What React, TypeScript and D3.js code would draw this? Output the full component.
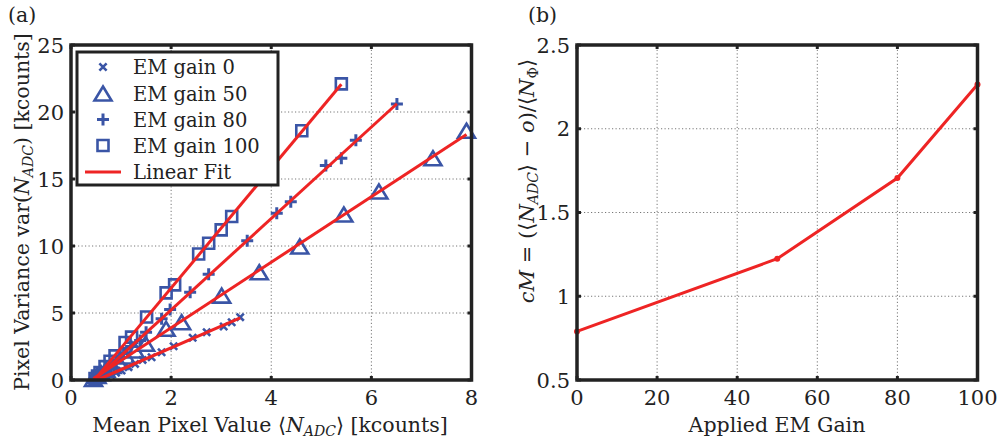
import React from "react";
import * as d3 from "d3";

// ---------- data ----------
const gain0X = [0.52, 0.6, 0.7, 0.8, 0.9, 1.01, 1.15, 1.28, 1.43, 1.61, 1.81, 2.05, 2.43, 2.71, 3.05, 3.21, 3.38];
const gain0Y = [0.02, 0.12, 0.25, 0.38, 0.55, 0.71, 0.96, 1.2, 1.5, 1.7, 2.07, 2.52, 3.15, 3.57, 3.99, 4.31, 4.69];

const gain50X = [0.45, 0.52, 0.6, 0.7, 0.82, 0.95, 1.1, 1.28, 1.49, 1.9, 2.21, 3.01, 3.76, 4.57, 5.45, 6.15, 7.23, 7.9];
const gain50Y = [0.08, 0.3, 0.5, 0.75, 1.05, 1.35, 1.75, 2.2, 2.7, 3.82, 4.31, 6.3, 8.04, 9.96, 12.35, 14.07, 16.55, 18.6];

const gain80X = [0.47, 0.53, 0.6, 0.68, 0.78, 0.9, 1.05, 1.2, 1.38, 1.5, 1.81, 1.98, 2.38, 2.75, 3.52, 4.11, 4.39, 5.09, 5.4, 5.69, 6.51];
const gain80Y = [0.05, 0.2, 0.45, 0.72, 1.05, 1.45, 1.98, 2.5, 2.95, 3.57, 4.57, 5.26, 6.55, 7.9, 10.4, 12.45, 13.3, 16.0, 16.55, 17.9, 20.6];

const gain100X = [0.48, 0.53, 0.58, 0.68, 0.78, 0.88, 1.08, 1.21, 1.51, 1.9, 2.07, 2.55, 2.75, 3.0, 3.21, 4.61, 5.4];
const gain100Y = [0.1, 0.3, 0.56, 1.0, 1.4, 1.8, 2.8, 3.2, 4.7, 6.5, 7.1, 9.4, 10.2, 11.2, 12.2, 18.6, 22.1];

const emGain = [0, 50, 80, 100];
const cmValues = [0.79, 1.224, 1.706, 2.264];

const leftXTicks = [0, 2, 4, 6, 8];
const leftYTicks = [0, 5, 10, 15, 20, 25];
const rightXTicks = [0, 20, 40, 60, 80, 100];
const rightYTicks = [0.5, 1, 1.5, 2, 2.5];
const legendLabels = ["EM gain 0", "EM gain 50", "EM gain 80", "EM gain 100", "Linear Fit"];

// ---------- style ----------
const FONT = "'DejaVu Serif', serif";
const BLUE = "#3a55a6";
const RED = "#ee2424";
const FS = 20.5; // axis labels
const TFS = 21; // tick labels
const LFS = 19.5; // legend
const SUB = 14;

type Shape = "x" | "tri" | "plus" | "sq";

function markerPath(shape: Shape, cx: number, cy: number): string {
  if (shape === "x") {
    const r = 3.6;
    return `M${cx - r},${cy - r}L${cx + r},${cy + r}M${cx - r},${cy + r}L${cx + r},${cy - r}`;
  }
  if (shape === "plus") {
    const r = 6;
    return `M${cx - r},${cy}L${cx + r},${cy}M${cx},${cy - r}L${cx},${cy + r}`;
  }
  if (shape === "sq") {
    const r = 5.5;
    return `M${cx - r},${cy - r}H${cx + r}V${cy + r}H${cx - r}Z`;
  }
  const s = 17;
  const h = 14;
  return `M${cx},${cy - h / 2}L${cx + s / 2},${cy + h / 2}L${cx - s / 2},${cy + h / 2}Z`;
}

function fit(xs: number[], ys: number[]) {
  const mx = d3.mean(xs)!;
  const my = d3.mean(ys)!;
  let num = 0;
  let den = 0;
  xs.forEach((x, i) => {
    num += (x - mx) * (ys[i] - my);
    den += (x - mx) * (x - mx);
  });
  const b = num / den;
  const a = my - b * mx;
  return { a, b };
}

const series: { xs: number[]; ys: number[]; shape: Shape; sw: number }[] = [
  { xs: gain0X, ys: gain0Y, shape: "x", sw: 2.6 },
  { xs: gain50X, ys: gain50Y, shape: "tri", sw: 2.6 },
  { xs: gain80X, ys: gain80Y, shape: "plus", sw: 3 },
  { xs: gain100X, ys: gain100Y, shape: "sq", sw: 2.6 },
];

function Grid(props: {
  x: d3.ScaleLinear<number, number>;
  y: d3.ScaleLinear<number, number>;
  xt: number[];
  yt: number[];
}) {
  const { x, y, xt, yt } = props;
  const [x0, x1] = x.range();
  const [y0, y1] = y.range();
  return (
    <g>
      {xt.slice(1, -1).map((t) => (
        <line key={"gx" + t} x1={x(t)} x2={x(t)} y1={y0} y2={y1} stroke="#777" strokeWidth={1} strokeDasharray="1.2,2.3" />
      ))}
      {yt.slice(1, -1).map((t) => (
        <line key={"gy" + t} x1={x0} x2={x1} y1={y(t)} y2={y(t)} stroke="#777" strokeWidth={1} strokeDasharray="1.2,2.3" />
      ))}
    </g>
  );
}

function FrameTop(props: {
  x: d3.ScaleLinear<number, number>;
  y: d3.ScaleLinear<number, number>;
  xt: number[];
  yt: number[];
  fmt: (n: number) => string;
}) {
  const { x, y, xt, yt, fmt } = props;
  const [x0, x1] = x.range();
  const [y0, y1] = y.range();
  const tl = 4;
  return (
    <g>
      {xt.map((t) => (
        <g key={"tx" + t}>
          <line x1={x(t)} x2={x(t)} y1={y0} y2={y0 - tl} stroke="#222" strokeWidth={3} />
          <line x1={x(t)} x2={x(t)} y1={y1} y2={y1 + tl} stroke="#222" strokeWidth={3} />
          <text x={x(t)} y={y0 + 25} textAnchor="middle" fontFamily={FONT} fontSize={TFS} fill="#222">
            {fmt(t)}
          </text>
        </g>
      ))}
      {yt.map((t) => (
        <g key={"ty" + t}>
          <line x1={x0} x2={x0 + tl} y1={y(t)} y2={y(t)} stroke="#222" strokeWidth={3} />
          <line x1={x1} x2={x1 - tl} y1={y(t)} y2={y(t)} stroke="#222" strokeWidth={3} />
          <text x={x0 - 7} y={y(t) + 7.5} textAnchor="end" fontFamily={FONT} fontSize={TFS} fill="#222">
            {fmt(t)}
          </text>
        </g>
      ))}
      <rect x={x0} y={y1} width={x1 - x0} height={y0 - y1} fill="none" stroke="#222" strokeWidth={3.5} />
    </g>
  );
}

export default function App() {
  const xL = d3.scaleLinear().domain([0, 8]).range([71, 471.5]);
  const yL = d3.scaleLinear().domain([0, 25]).range([380, 45]);
  const xR = d3.scaleLinear().domain([0, 100]).range([577, 977.5]);
  const yR = d3.scaleLinear().domain([0.5, 2.5]).range([380, 45]);
  const fmt = d3.format("");

  const rightLine = d3
    .line<number>()
    .x((_, i) => xR(emGain[i]))
    .y((d) => yR(d));

  const legX = 77;
  const legY = 52;
  const rowY = [67, 93.5, 119.5, 145.5, 172];

  return (
    <svg width={1001} height={441} style={{ position: "absolute", left: 0, top: 0, background: "#fff" }}>
      {/* ----- panel (a) ----- */}
      <Grid x={xL} y={yL} xt={leftXTicks} yt={leftYTicks} />
      {series.map((s, si) => (
        <g key={"m" + si}>
          {s.xs.map((xv, i) => (
            <path key={i} d={markerPath(s.shape, xL(xv), yL(s.ys[i]))} fill="none" stroke={BLUE} strokeWidth={s.sw} />
          ))}
        </g>
      ))}
      {series.map((s, si) => {
        const { a, b } = fit(s.xs, s.ys);
        const xa = d3.min(s.xs)!;
        const xb = d3.max(s.xs)!;
        return (
          <line
            key={"f" + si}
            x1={xL(xa)}
            y1={yL(Math.max(0, a + b * xa))}
            x2={xL(xb)}
            y2={yL(a + b * xb)}
            stroke={RED}
            strokeWidth={3}
          />
        );
      })}
      <FrameTop x={xL} y={yL} xt={leftXTicks} yt={leftYTicks} fmt={fmt} />

      {/* legend */}
      <rect x={legX} y={legY} width={201} height={133} fill="#fff" stroke="#222" strokeWidth={3} />
      {series.map((s, si) => (
        <path key={"lm" + si} d={markerPath(s.shape, 103, rowY[si])} fill="none" stroke={BLUE} strokeWidth={s.sw} />
      ))}
      <line x1={85} x2={121} y1={rowY[4]} y2={rowY[4]} stroke={RED} strokeWidth={3} />
      {legendLabels.map((l, i) => (
        <text key={"lt" + i} x={133} y={rowY[i] + 7} fontFamily={FONT} fontSize={LFS} fill="#222">
          {l}
        </text>
      ))}

      {/* axis labels (a) */}
      <text x={270} y={432} textAnchor="middle" fontFamily={FONT} fontSize={FS} fill="#222">
        Mean Pixel Value{"  "}⟨<tspan fontStyle="italic">N</tspan>
        <tspan fontStyle="italic" fontSize={SUB} dy={4}>ADC</tspan>
        <tspan dy={-4}>⟩ [kcounts]</tspan>
      </text>
      <text transform="translate(29,212) rotate(-90)" textAnchor="middle" fontFamily={FONT} fontSize={FS} fill="#222">
        Pixel Variance var(<tspan fontStyle="italic">N</tspan>
        <tspan fontStyle="italic" fontSize={SUB} dy={4}>ADC</tspan>
        <tspan dy={-4}>) [kcounts]</tspan>
      </text>
      <text x={8} y={22} fontFamily={FONT} fontSize={FS} fill="#222">(a)</text>

      {/* ----- panel (b) ----- */}
      <Grid x={xR} y={yR} xt={rightXTicks} yt={rightYTicks} />
      <path d={rightLine(cmValues) || ""} fill="none" stroke={RED} strokeWidth={3} />
      {cmValues.map((v, i) => (
        <circle key={"rc" + i} cx={xR(emGain[i])} cy={yR(v)} r={3} fill={RED} />
      ))}
      <FrameTop x={xR} y={yR} xt={rightXTicks} yt={rightYTicks} fmt={fmt} />
      <text x={777} y={432} textAnchor="middle" fontFamily={FONT} fontSize={FS} fill="#222">
        Applied EM Gain
      </text>
      <text transform="translate(534,181) rotate(-90)" textAnchor="middle" fontFamily={FONT} fontSize={21} fill="#222">
        <tspan fontStyle="italic">cM</tspan> = (⟨<tspan fontStyle="italic">N</tspan>
        <tspan fontStyle="italic" fontSize={SUB} dy={4}>ADC</tspan>
        <tspan dy={-4}>⟩ − </tspan>
        <tspan fontStyle="italic">o</tspan>)/⟨<tspan fontStyle="italic">N</tspan>
        <tspan fontSize={SUB} dy={4}>Φ</tspan>
        <tspan dy={-4}>⟩</tspan>
      </text>
      <text x={528} y={22} fontFamily={FONT} fontSize={FS} fill="#222">(b)</text>
    </svg>
  );
}
